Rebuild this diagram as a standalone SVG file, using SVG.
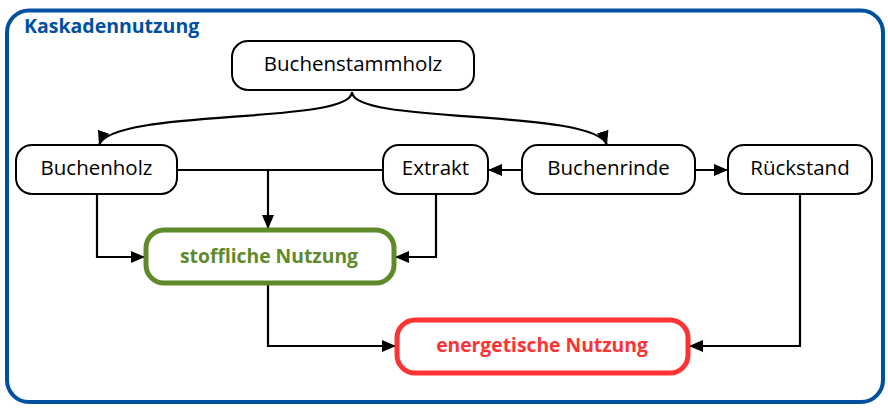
<svg xmlns="http://www.w3.org/2000/svg" width="888" height="408" viewBox="0 0 888 408">
<defs>
<marker id="ah" viewBox="0 0 14 12" refX="14" refY="6" markerWidth="14" markerHeight="12" markerUnits="userSpaceOnUse" orient="auto">
<path d="M0,0 L14,6 L0,12 z" fill="#000"/>
</marker>
<style>
.n{fill:#fff;stroke:#000;stroke-width:2}
.t{font-family:"Open Sans","DejaVu Sans",sans-serif;font-size:20.5px;fill:#000;text-anchor:middle}
.c{fill:none;stroke:#000;stroke-width:2.2}
.a{marker-end:url(#ah)}
.b{font-family:"Open Sans","DejaVu Sans",sans-serif;font-size:19.3px;font-weight:bold;text-anchor:middle}
</style>
</defs>
<rect x="0" y="0" width="888" height="408" fill="#fff"/>
<g id="frame">
<rect x="7" y="10.5" width="876" height="391.5" rx="22" fill="#fff" stroke="#0050a0" stroke-width="4"/>
<text x="24" y="33" font-family="'Open Sans','DejaVu Sans',sans-serif" font-size="19.5" font-weight="bold" fill="#0050a0">Kaskadennutzung</text>
</g>
<g id="connectors">
<path class="c a" d="M352,92 C352,125 112,108 99,145"/>
<path class="c a" d="M352,92 C352,125 595,108 607,145"/>
<path class="c" d="M177,170 H383"/>
<path class="c a" d="M268,170 V229"/>
<path class="c a" d="M97,194 V257 H145"/>
<path class="c a" d="M436,194 V257 H395"/>
<path class="c a" d="M522,170 H488"/>
<path class="c a" d="M695,170 H728"/>
<path class="c a" d="M268,284 V346 H396"/>
<path class="c a" d="M800,194 V346 H689"/>
</g>
<g id="buchenstammholz">
<rect class="n" x="232" y="41" width="242" height="49" rx="16"/>
<text class="t" x="353" y="71">Buchenstammholz</text>
</g>
<g id="buchenholz">
<rect class="n" x="16" y="145" width="161" height="49" rx="16"/>
<text class="t" x="96.5" y="175">Buchenholz</text>
</g>
<g id="extrakt">
<rect class="n" x="383" y="145" width="105" height="49" rx="16"/>
<text class="t" x="435.5" y="175">Extrakt</text>
</g>
<g id="buchenrinde">
<rect class="n" x="522" y="145" width="173" height="49" rx="16"/>
<text class="t" x="608.5" y="175">Buchenrinde</text>
</g>
<g id="rueckstand">
<rect class="n" x="728" y="145" width="144" height="49" rx="16"/>
<text class="t" x="800" y="175">Rückstand</text>
</g>
<g id="stoffliche">
<rect x="146" y="230" width="248" height="53" rx="18" fill="#fff" stroke="#5f8a2b" stroke-width="5"/>
<text class="b" x="269" y="263" fill="#5f8a2b">stoffliche Nutzung</text>
</g>
<g id="energetische">
<rect x="397" y="320" width="291" height="53" rx="18" fill="#fff" stroke="#ff3333" stroke-width="5"/>
<text class="b" x="542" y="352" fill="#ff3333">energetische Nutzung</text>
</g>
</svg>
